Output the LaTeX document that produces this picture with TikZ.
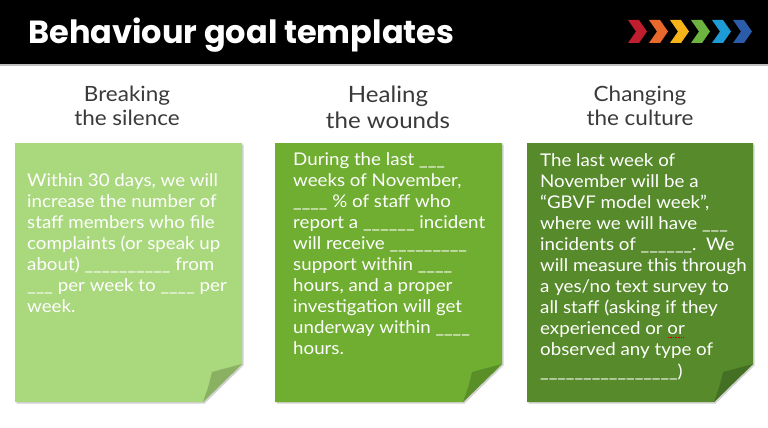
\documentclass[tikz,border=0pt]{standalone}
\usepackage{fontspec}
\setmainfont{Lato}[FakeStretch=1.07]
\newfontfamily\titlefont{Poppins}
\definecolor{cardA}{HTML}{A9D87D}
\definecolor{foldA}{HTML}{8AB062}
\definecolor{cardB}{HTML}{6FAE31}
\definecolor{foldB}{HTML}{5A8F28}
\definecolor{cardC}{HTML}{578A2B}
\definecolor{foldC}{HTML}{447024}
\definecolor{headgray}{HTML}{3A3A3A}
\definecolor{chA}{HTML}{BE1E2D}
\definecolor{chB}{HTML}{E8692B}
\definecolor{chC}{HTML}{F7B418}
\definecolor{chD}{HTML}{6CB33F}
\definecolor{chE}{HTML}{1E9AD6}
\definecolor{chF}{HTML}{2B5CAA}
\tikzset{
  heading/.style={anchor=north, align=center, text=headgray, inner sep=0,
    font=\fontsize{21}{23.5}\selectfont},
  cardtext/.style={anchor=north west, align=left, text=white, inner sep=0,
    font=\fontsize{17.5}{21.1}\selectfont},
  shadowfill/.style={fill=black, opacity=0.18},
}
\newcommand{\mycard}[4]{%
  \fill[shadowfill] (#1+1.5,144.5) -- (#2+1.5,144.5) -- (#2+1.5,365.5) -- (#2-37.5,403.5) -- (#1+1.5,403.5) -- cycle;
  \fill[#3] (#1,143) -- (#2,143) -- (#2,364) -- (#2-39,402) -- (#1,402) -- cycle;
  \fill[#4] (#2,364) -- (#2-30,372) .. controls (#2-33,385) .. (#2-39,402) -- cycle;
}
\newcommand{\mychev}[2]{%
  \fill[#2] (#1,20) -- (#1+11,20) -- (#1+19,31.5) -- (#1+11,43) -- (#1,43) -- (#1+8,31.5) -- cycle;
}
\begin{document}
\begin{tikzpicture}[x=1pt,y=-1pt]
\useasboundingbox (0,0) rectangle (768,428);
\fill[white] (0,0) rectangle (768,428);
\fill[black] (0,0) rectangle (768,64);
\fill[black!25] (0,64) rectangle (768,66);
\node[anchor=base west, text=white, inner sep=0, font=\titlefont\bfseries\fontsize{32}{32}\selectfont] (title) at (28,44) {Behaviour goal templates};
\mychev{628}{chA}
\mychev{649}{chB}
\mychev{670}{chC}
\mychev{691}{chD}
\mychev{712}{chE}
\mychev{733}{chF}

\node[heading] (h1) at (127,86) {Breaking\\the silence};
\node[heading, font=\fontsize{22.5}{25.5}\selectfont] (h2) at (388,86) {Healing\\the wounds};
\node[heading] (h3) at (640,86) {Changing\\the culture};

\mycard{15}{242}{cardA}{foldA}
\mycard{275}{502}{cardB}{foldB}
\mycard{527}{753}{cardC}{foldC}

\node[cardtext] (t1) at (27,173) {Within 30 days, we will\\increase the number of\\staff members who file\\complaints (or speak up\\about) \_\_\_\_\_\_\_\_\_\_ from\\\_\_\_ per week to \_\_\_\_ per\\week.};
\node[cardtext] (t2) at (293,152) {During the last \_\_\_\\weeks of November,\\\_\_\_\_ \% of staff who\\report a \_\_\_\_\_\_ incident\\will receive \_\_\_\_\_\_\_\_\_\\support within \_\_\_\_\\hours, and a proper\\investigation will get\\underway within \_\_\_\_\\hours.};
\node[cardtext] (t3) at (540,153) {The last week of\\November will be a\\``GBVF model week'',\\where we will have \_\_\_\\incidents of \_\_\_\_\_\_.\ \ We\\will measure this through\\a yes/no text survey to\\all staff (asking if they\\experienced or \tikz[baseline]\draw[red!80!black, densely dotted, line width=0.6pt] (0,-2.5pt) -- (16pt,-2.5pt) node[pos=0.5, above=2.5pt, inner sep=0, white] (oror) {or};\\observed any type of\\\_\_\_\_\_\_\_\_\_\_\_\_\_\_\_\_)};
\end{tikzpicture}
\end{document}
